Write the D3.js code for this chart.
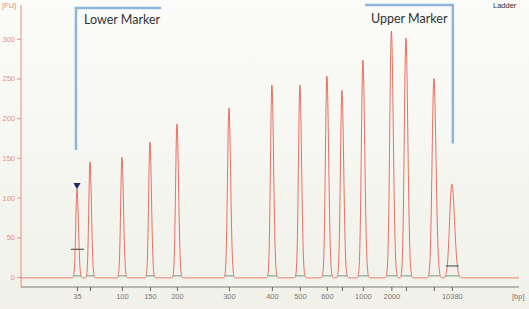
<!DOCTYPE html>
<html><head><meta charset="utf-8">
<script src="https://cdn.jsdelivr.net/npm/d3@7/dist/d3.min.js"></script>
<style>html,body{margin:0;padding:0;background:#f5f5ef;}svg{display:block;}</style>
</head><body>
<script>
// Ladder sizes (bp), migration times (s), peak heights (FU), peak widths (s)
const sizes   = [35, 50, 100, 150, 200, 300, 400, 500, 600, 700, 1000, 2000, 3000, 7000, 10380];
const times   = [49.16, 51.29, 56.52, 61.10, 65.52, 74.03, 81.06, 85.64, 90.06, 92.52, 95.95, 100.61, 102.99, 107.57, 110.51];
const heights = [112, 146, 152, 171, 194, 214, 243, 243, 254, 236, 274, 311, 302, 251, 118];
const widths  = [0.2, 0.2, 0.21, 0.21, 0.22, 0.23, 0.23, 0.23, 0.24, 0.24, 0.25, 0.26, 0.26, 0.29, 0.37];
const labeledSizes = [35, 100, 150, 200, 300, 400, 500, 600, 1000, 2000, 10380];
const yTicks = [0, 50, 100, 150, 200, 250, 300];
const baselineFU = -1;
const markerLevels = {35: 35, 10380: 14};

const W = 529, H = 309;
const svg = d3.select("body").append("svg").attr("width", W).attr("height", H);
const defs = svg.append("defs");
const g = defs.append("linearGradient").attr("id","bg").attr("x1",0).attr("y1",0).attr("x2",0).attr("y2",1);
g.append("stop").attr("offset","0%").attr("stop-color","#fbfbf9");
g.append("stop").attr("offset","100%").attr("stop-color","#f1f1ea");
svg.append("rect").attr("width",W).attr("height",H).attr("fill","url(#bg)");

const x = d3.scaleLinear().domain([40, 121.5]).range([21, 519]);
const y = d3.scaleLinear().domain([-12.5, 342.5]).range([287, 5]);
const red = "#e8604e", salmon = "#ee8c7c";

// Y axis
const yAxis = svg.append("g").attr("transform","translate(21,0)")
  .call(d3.axisLeft(y).tickValues(yTicks).tickSize(4).tickPadding(2));
yAxis.select(".domain").attr("stroke", salmon).attr("d", `M0,${y.range()[0]}V${y.range()[1]}`);
yAxis.selectAll(".tick line").attr("stroke", salmon);
yAxis.selectAll(".tick text").attr("fill", salmon).attr("font-family","Liberation Sans, Arial").attr("font-size",7.5);
svg.append("text").attr("x",2).attr("y",8).text("[FU]").attr("fill",salmon)
  .attr("font-family","Liberation Sans, Arial").attr("font-size",7.5);

// X axis
const xAxis = svg.append("g").attr("transform","translate(0,287)")
  .call(d3.axisBottom(x).tickValues(times).tickSize(4).tickPadding(3)
    .tickFormat((d,i) => labeledSizes.includes(sizes[i]) ? String(sizes[i]) : ""));
xAxis.select(".domain").attr("stroke","#7a7a7a").attr("d", `M21,0H519`);
xAxis.selectAll(".tick line").attr("stroke","#666");
xAxis.selectAll(".tick text").attr("fill","#777").attr("font-family","Liberation Sans, Arial").attr("font-size",7.5);
svg.append("text").attr("x",512).attr("y",299).text("[bp]").attr("fill","#777")
  .attr("font-family","Liberation Sans, Arial").attr("font-size",7.5);

// Trace: sum of ladder peaks over the baseline
const samples = d3.range(40, 121.5 + 1e-9, 0.03);
const trace = samples.map(t => {
  let v = baselineFU;
  times.forEach((c, i) => {
    const s = widths[i] * (t > c ? 1.2 : 1);
    v += heights[i] * Math.exp(-0.5 * ((t - c) / s) ** 2);
  });
  return [t, v];
});
svg.append("path").datum(trace)
  .attr("fill","none").attr("stroke", red).attr("stroke-width",0.9).attr("stroke-linejoin","round")
  .attr("d", d3.line().x(d => x(d[0])).y(d => y(d[1])));

// Peak baselines (integration)
svg.append("g").selectAll("line").data(times).join("line")
  .attr("x1", (d,i) => x(d - widths[i]*3)).attr("x2", (d,i) => x(d + widths[i]*3.5))
  .attr("y1", y(1.5)).attr("y2", y(1.5))
  .attr("stroke","#6f9a86").attr("stroke-width",1);

// Marker level bars
svg.append("g").selectAll("line").data(Object.keys(markerLevels).map(Number)).join("line")
  .attr("x1", s => x(times[sizes.indexOf(s)]) - 6).attr("x2", s => x(times[sizes.indexOf(s)]) + 7)
  .attr("y1", s => y(markerLevels[s])).attr("y2", s => y(markerLevels[s]))
  .attr("stroke","#444").attr("stroke-width",1);

// Marker triangle on lower marker
const tLow = times[0];
svg.append("path")
  .attr("d", d3.symbol().type(d3.symbolTriangle).size(22)())
  .attr("transform", `translate(${x(tLow)},${y(heights[0]) - 3}) rotate(180)`)
  .attr("fill","#1d2a66");

// Marker brackets
const blue = "#8cb6dc";
const iUp = sizes.length - 1;
svg.append("path").attr("fill","none").attr("stroke",blue).attr("stroke-width",2.5)
  .attr("d", `M${x(tLow) - 1},${y(160)}V8H161`);
svg.append("path").attr("fill","none").attr("stroke",blue).attr("stroke-width",2.5)
  .attr("d", `M365,5H${x(times[iUp]) + 1}V${y(168)}`);
svg.append("text").attr("x",84).attr("y",24).text("Lower Marker")
  .attr("font-family","Lato, Open Sans").attr("font-size",12.5).attr("fill","#333");
svg.append("text").attr("x",371).attr("y",23).text("Upper Marker")
  .attr("font-family","Lato, Open Sans").attr("font-size",12.5).attr("fill","#333");
svg.append("text").attr("x",493).attr("y",8).text("Ladder")
  .attr("font-family","Liberation Sans, Arial").attr("font-size",7.5).attr("fill","#333");
</script>
</body></html>
